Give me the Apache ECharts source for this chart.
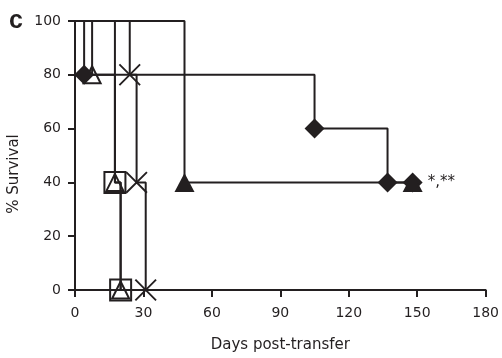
<!DOCTYPE html>
<html>
<head>
<meta charset="utf-8">
<script src="https://cdn.jsdelivr.net/npm/echarts@6/dist/echarts.min.js"></script>
<style>
html,body{margin:0;padding:0;background:#fff;}
#chart{width:502px;height:358px;}
</style>
</head>
<body>
<div id="chart"></div>
<script>
// Kaplan-Meier steps (days, % survival)
const diamondDays = [0, 4, 105, 137, 148];
const diamondSurv = [100, 80, 60, 40, 40];
const triFilledDays = [0, 48, 148];
const triFilledSurv = [100, 40, 40];
const triOpenDays = [0, 7.5, 17.5, 20];
const triOpenSurv = [100, 80, 40, 0];
const squareDays = [0, 17.5, 20];
const squareSurv = [100, 40, 0];
const crossDays = [0, 24, 27, 31];
const crossSurv = [100, 80, 40, 0];
const xTicks = [0, 30, 60, 90, 120, 150, 180];
const yTicks = [0, 20, 40, 60, 80, 100];
const annotation = '*,**';

const INK = '#231f20';
const FONT = 'DejaVu Sans';
const crossPath = 'path://M7.18,0.82L107.18,100.82L100.82,107.18L0.82,7.18Z M100.82,0.82L107.18,7.18L7.18,107.18L0.82,100.82Z';

function mk(days, surv, symbol, size, filled, lastLabel) {
  const data = days.map((d, i) => {
    const item = { value: [d, surv[i]], symbol: i === 0 ? 'none' : symbol };
    if (lastLabel && i === days.length - 1) {
      item.label = {
        show: true, position: 'right', distance: 5, formatter: lastLabel,
        fontFamily: FONT, fontSize: 15, color: INK
      };
    }
    return item;
  });
  return {
    type: 'line', step: 'end', data: data,
    symbolSize: size, showSymbol: true,
    lineStyle: { color: INK, width: 2 },
    itemStyle: filled
      ? { color: INK, borderWidth: 0 }
      : { color: 'rgba(255,255,255,0)', borderColor: INK, borderWidth: 2 },
    emphasis: { disabled: true },
    animation: false
  };
}

const chart = echarts.init(document.getElementById('chart'), null, { renderer: 'canvas' });
chart.setOption({
  animation: false,
  backgroundColor: '#fff',
  grid: { left: 75, right: 14, top: 21, bottom: 62, containLabel: false },
  xAxis: {
    type: 'value', min: xTicks[0], max: xTicks[xTicks.length - 1], interval: xTicks[1] - xTicks[0],
    name: 'Days post-transfer', nameLocation: 'middle', nameGap: 48,
    nameTextStyle: { fontFamily: FONT, fontSize: 15, color: INK },
    axisLine: { lineStyle: { color: INK, width: 2 } },
    axisTick: { length: 7, lineStyle: { color: INK, width: 2 } },
    axisLabel: { fontFamily: FONT, fontSize: 14, color: INK, margin: 16 },
    splitLine: { show: false }
  },
  yAxis: {
    type: 'value', min: yTicks[0], max: yTicks[yTicks.length - 1], interval: yTicks[1] - yTicks[0],
    axisLine: { show: true, lineStyle: { color: INK, width: 2 } },
    axisTick: { show: true, length: 7, lineStyle: { color: INK, width: 2 } },
    axisLabel: { fontFamily: FONT, fontSize: 14, color: INK, margin: 14 },
    splitLine: { show: false }
  },
  graphic: [
    { type: 'text', x: 9, y: 21,
      style: { text: 'c', fontFamily: 'Liberation Sans', fontWeight: 'bold', fontSize: 25, fill: INK, verticalAlign: 'middle' } },
    { type: 'text', x: 14.5, y: 174, rotation: Math.PI / 2,
      style: { text: '% Survival', fontFamily: FONT, fontSize: 15, fill: INK, align: 'center', verticalAlign: 'middle' } }
  ],
  series: [
    mk(squareDays, squareSurv, 'rect', 21, false),
    mk(triOpenDays, triOpenSurv, 'triangle', [17, 17], false),
    mk(crossDays, crossSurv, crossPath, 22, true),
    mk(diamondDays, diamondSurv, 'diamond', 20, true),
    mk(triFilledDays, triFilledSurv, 'triangle', [20, 19], true, annotation)
  ]
});
</script>
</body>
</html>
